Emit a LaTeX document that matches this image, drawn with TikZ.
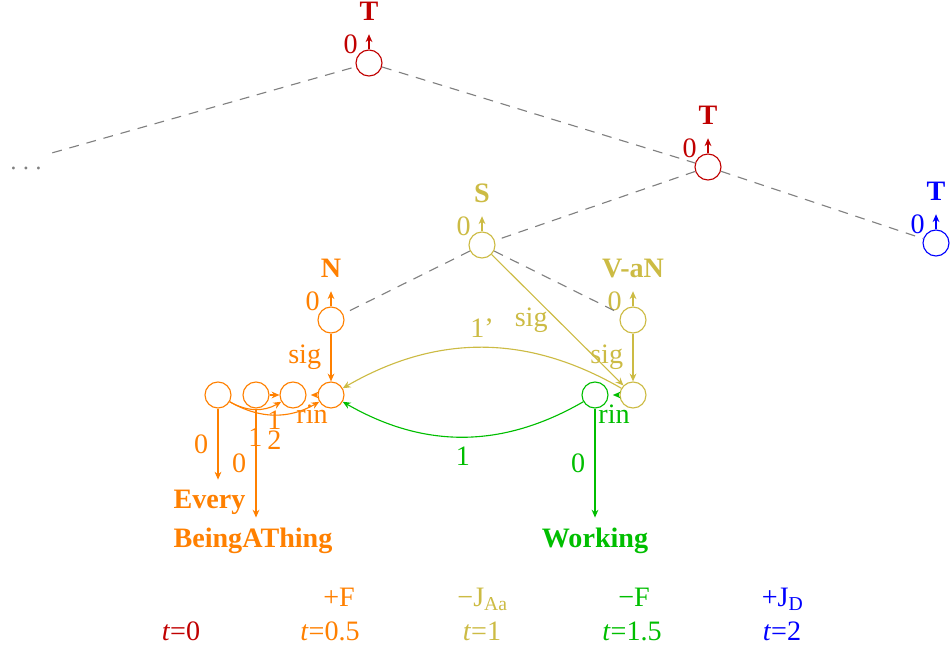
\documentclass[tikz,border=0pt]{standalone}
\usepackage{fontspec}
\setmainfont{Liberation Serif}
\usetikzlibrary{calc, positioning}
\usetikzlibrary{arrows.meta}

\definecolor{tred}{RGB}{192,0,0}
\definecolor{torange}{RGB}{255,128,0}
\definecolor{tolive}{RGB}{204,187,68}
\definecolor{tgreen}{RGB}{0,190,0}
\definecolor{tblue}{RGB}{0,0,255}

\begin{document}
\begin{tikzpicture}[
  stnode/.style={circle, draw, minimum size=0.325cm, inner sep=0pt},
  namelab/.style={font=\bfseries, inner sep=0pt},
  arr/.style={-{Stealth[length=2.8pt, width=2.4pt]}},
  uparr/.style={arr, shorten >=0.16cm},
  treeline/.style={gray, dash pattern=on 3.5pt off 2.8pt}
]
\useasboundingbox (0,0) rectangle (11.875,8.1125);

\node[stnode, tred] (t1) at (4.6125,7.325) {};
\node[stnode, tred] (t2) at (8.85,6.025) {};
\node[stnode, tblue] (t3) at (11.70,5.075) {};
\node[stnode, tolive] (s) at (6.025,5.05) {};
\node[stnode, torange] (n) at (4.1375,4.1125) {};
\node[stnode, tolive] (v) at (7.9125,4.1125) {};
\node[stnode, torange] (o1) at (2.725,3.175) {};
\node[stnode, torange] (o2) at (3.20,3.175) {};
\node[stnode, torange] (o3) at (3.6625,3.175) {};
\node[stnode, torange] (o4) at (4.1375,3.175) {};
\node[stnode, tgreen] (g) at (7.4375,3.175) {};
\node[stnode, tolive] (y) at (7.9125,3.175) {};
\node[gray] (dots) at (0.325,6.0) {$\cdots$};

\node[namelab, tred, above=0.35cm of t1] (t1n) {T};
\node[namelab, tred, above=0.35cm of t2] (t2n) {T};
\node[namelab, tblue, above=0.35cm of t3] (t3n) {T};
\node[namelab, tolive, above=0.35cm of s] (sn) {S};
\node[namelab, torange, above=0.35cm of n] (nn) {N};
\node[namelab, tolive, above=0.35cm of v] (vn) {V-aN};

\draw[uparr, tred] (t1) -- (t1n);
\draw[uparr, tred] (t2) -- (t2n);
\draw[uparr, tblue] (t3) -- (t3n);
\draw[uparr, tolive] (s) -- (sn);
\draw[uparr, torange] (n) -- (nn);
\draw[uparr, tolive] (v) -- (vn);

\node[tred] (t1z) at ($(t1)+(-0.23,0.24)$) {0};
\node[tred] (t2z) at ($(t2)+(-0.23,0.24)$) {0};
\node[tblue] (t3z) at ($(t3)+(-0.23,0.24)$) {0};
\node[tolive] (sz) at ($(s)+(-0.23,0.24)$) {0};
\node[torange] (nz) at ($(n)+(-0.23,0.24)$) {0};
\node[tolive] (vz) at ($(v)+(-0.23,0.24)$) {0};

\draw[treeline] (dots.north east) -- (t1);
\draw[treeline] (t1) -- (t2);
\draw[treeline] (t2) -- (s);
\draw[treeline] (t2) -- (t3);
\draw[treeline] (s) -- (n);
\draw[treeline] (s) -- (v);

\node[torange, font=\bfseries, anchor=base west] (every) at (2.045,1.7625) {Every};
\node[torange, font=\bfseries, anchor=base west] (being) at (2.045,1.275) {BeingAThing};
\node[tgreen, font=\bfseries, anchor=base] (working) at (7.4375,1.275) {Working};

\draw[arr, torange] (n) -- node[left] {sig} (o4);
\draw[arr, tolive] (v) -- node[left] {sig} (y);
\draw[arr, tolive] (s) -- node[left] {sig} (y);
\draw[arr, tolive] (y) to[bend right=30] node[above] {1'} (o4);
\draw[arr, tgreen] (g) to[bend left=30] node[below] {1} (o4);
\draw[arr, tgreen, shorten >=1.5pt] (y) -- node[below] {rin} (g);
\draw[arr, torange, shorten >=1.5pt] (o4) -- node[below] {rin} (o3);
\draw[arr, torange] (o2) -- node[below, yshift=-2pt] {1} (o3);
\draw[arr, torange] (o1) to[out=-30, in=-150] node[below, yshift=-3pt] {1} (o3);
\draw[arr, torange] (o1) to[out=-30, in=-150] node[below, yshift=-2pt] {2} (o4);
\draw[arr, torange] (o1) -- node[left] {0} (o1 |- every.north);
\draw[arr, torange] (o2) -- node[left] {0} (o2 |- being.north);
\draw[arr, tgreen] (g) -- node[left] {0} (working);

\node[torange, anchor=base] (lf) at (4.2375,0.5375) {+F};
\node[tolive, anchor=base] (lj) at (6.0375,0.5375) {−J\textsubscript{Aa}};
\node[tgreen, anchor=base] (lmf) at (7.925,0.5375) {−F};
\node[tblue, anchor=base] (ljd) at (9.7875,0.5375) {+J\textsubscript{D}};
\node[tred, anchor=base] (tz) at (2.2625,0.1125) {\textit{t}=0};
\node[torange, anchor=base] (th) at (4.125,0.1125) {\textit{t}=0.5};
\node[tolive, anchor=base] (to) at (6.025,0.1125) {\textit{t}=1};
\node[tgreen, anchor=base] (tf) at (7.9,0.1125) {\textit{t}=1.5};
\node[tblue, anchor=base] (tw) at (9.775,0.1125) {\textit{t}=2};
\end{tikzpicture}
\end{document}
